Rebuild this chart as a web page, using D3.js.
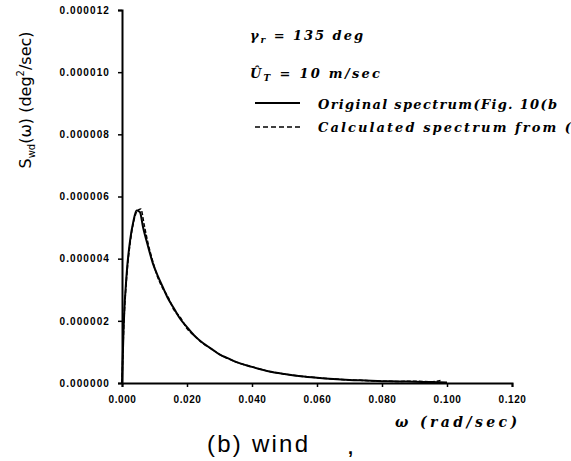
<!DOCTYPE html>
<html><head><meta charset="utf-8">
<script src="https://cdn.jsdelivr.net/npm/d3@7"></script>
<style>body{margin:0;background:#fff;}svg{display:block;}</style>
</head><body>
<svg id="c" width="571" height="461"></svg>
<script>
const xTicks = [0, 0.02, 0.04, 0.06, 0.08, 0.10, 0.12];
const yTicks = [0, 0.000002, 0.000004, 0.000006, 0.000008, 0.000010, 0.000012];
const origW = [0, 0.0005, 0.0015, 0.0025, 0.0035, 0.0045, 0.0055, 0.0065, 0.008, 0.0095, 0.011, 0.0125, 0.014, 0.016, 0.018, 0.02, 0.0225, 0.025, 0.0275, 0.03, 0.0325, 0.035, 0.04, 0.045, 0.05, 0.055, 0.06, 0.065, 0.07, 0.075, 0.08, 0.085, 0.09, 0.095, 0.1];
const origS = [0, 1.8, 3.6, 4.6, 5.2, 5.55, 5.5, 5.0, 4.4, 3.85, 3.45, 3.1, 2.75, 2.4, 2.05, 1.8, 1.5, 1.28, 1.1, 0.92, 0.8, 0.68, 0.52, 0.38, 0.29, 0.22, 0.17, 0.13, 0.1, 0.08, 0.06, 0.05, 0.04, 0.03, 0.02];
const calcW = [0, 0.0005, 0.0015, 0.0025, 0.0035, 0.0048, 0.0058, 0.0068, 0.008, 0.0095, 0.011, 0.0125, 0.014, 0.016, 0.018, 0.02, 0.0225, 0.025, 0.0275, 0.03, 0.0325, 0.035, 0.04, 0.045, 0.05, 0.055, 0.06, 0.065, 0.07, 0.075, 0.08, 0.085, 0.09, 0.095, 0.098];
const calcS = [0, 1.7, 3.5, 4.5, 5.15, 5.55, 5.6, 5.1, 4.5, 3.9, 3.4, 3.05, 2.8, 2.35, 2.1, 1.75, 1.5, 1.26, 1.1, 0.92, 0.79, 0.68, 0.52, 0.38, 0.29, 0.22, 0.17, 0.13, 0.1, 0.08, 0.06, 0.05, 0.06, 0.04, 0.08];

const svg = d3.select("#c");
const x = d3.scaleLinear().domain([0, 0.12]).range([122, 512]);
const y = d3.scaleLinear().domain([0, 0.000012]).range([383, 10]);

const tickFont = "'Liberation Sans', Arial, sans-serif";

const gx = svg.append("g").attr("transform", "translate(0,383)")
  .call(d3.axisBottom(x).tickValues(xTicks).tickSize(4).tickFormat(d3.format(".3f")));
const gy = svg.append("g").attr("transform", "translate(122,0)")
  .call(d3.axisLeft(y).tickValues(yTicks).tickSize(4).tickFormat(d3.format(".6f")));
[gx, gy].forEach(g => {
  g.select(".domain").attr("stroke", "#000").attr("stroke-width", 2);
  g.selectAll(".tick line").attr("stroke", "#000").attr("stroke-width", 1.5);
  g.selectAll(".tick text").attr("fill", "#000").attr("font-family", tickFont)
    .attr("font-size", 10).attr("font-weight", "bold");
});
gx.selectAll(".tick text").attr("y", 20).attr("dy", 0).attr("letter-spacing", 0.6);
gy.selectAll(".tick text").attr("x", -12).attr("letter-spacing", 1.1);

const line = d3.line().x(d => x(d[0])).y(d => y(d[1] * 1e-6)).curve(d3.curveMonotoneX);
svg.append("path").datum(origW.map((w, i) => [w, origS[i]]))
  .attr("d", line).attr("fill", "none").attr("stroke", "#000").attr("stroke-width", 2);
svg.append("path").datum(calcW.map((w, i) => [w, calcS[i]]))
  .attr("d", line).attr("fill", "none").attr("stroke", "#000").attr("stroke-width", 1.5)
  .attr("stroke-dasharray", "4,2");

// annotations
const ann = "'DejaVu Serif', 'Liberation Serif', serif";
function annText(xp, yp, fs) {
  return svg.append("text").attr("x", xp).attr("y", yp).attr("font-family", ann)
    .attr("font-style", "italic").attr("font-weight", "bold").attr("font-size", fs);
}
const t1 = annText(250, 40, 13).attr("textLength", 113).attr("lengthAdjust", "spacing");
t1.append("tspan").text("γ");
t1.append("tspan").attr("font-size", 9).attr("dy", 3).text("r");
t1.append("tspan").attr("dy", -3).text(" = 135 deg");
const t2 = annText(250, 78, 13).attr("textLength", 130).attr("lengthAdjust", "spacing");
t2.append("tspan").text("Û");
t2.append("tspan").attr("font-size", 9).attr("dy", 3).text("T");
t2.append("tspan").attr("dy", -3).text(" = 10 m/sec");

svg.append("line").attr("x1", 255).attr("x2", 300).attr("y1", 103).attr("y2", 103)
  .attr("stroke", "#000").attr("stroke-width", 2);
svg.append("line").attr("x1", 255).attr("x2", 300).attr("y1", 127).attr("y2", 127)
  .attr("stroke", "#000").attr("stroke-width", 1.5).attr("stroke-dasharray", "5,3");
annText(318, 109, 13).attr("textLength", 239).attr("lengthAdjust", "spacing")
  .text("Original spectrum(Fig. 10(b");
annText(318, 132, 13).attr("textLength", 253).attr("lengthAdjust", "spacing")
  .text("Calculated spectrum from (");

// y label
const yl = svg.append("text").attr("transform", "translate(31,100) rotate(-90)")
  .attr("text-anchor", "middle").attr("font-family", "'DejaVu Sans', sans-serif")
  .attr("font-size", 16);
yl.append("tspan").text("S");
yl.append("tspan").attr("font-size", 10).attr("dy", 4).text("wd");
yl.append("tspan").attr("dy", -4).text("(ω)  (deg");
yl.append("tspan").attr("font-size", 10).attr("dy", -7).text("2");
yl.append("tspan").attr("dy", 7).text("/sec)");

// x label
annText(395, 427, 14).attr("textLength", 122).attr("lengthAdjust", "spacing").text("ω (rad/sec)");
svg.append("text").attr("x", 207).attr("y", 452).attr("font-family", "'Liberation Sans', Arial, sans-serif")
  .attr("font-size", 24).attr("textLength", 101).attr("lengthAdjust", "spacing").text("(b)  wind");
svg.append("text").attr("x", 348).attr("y", 454).attr("font-family", "'Liberation Sans', Arial, sans-serif")
  .attr("font-size", 18).attr("font-weight", "bold").text(",");
</script>
</body></html>
